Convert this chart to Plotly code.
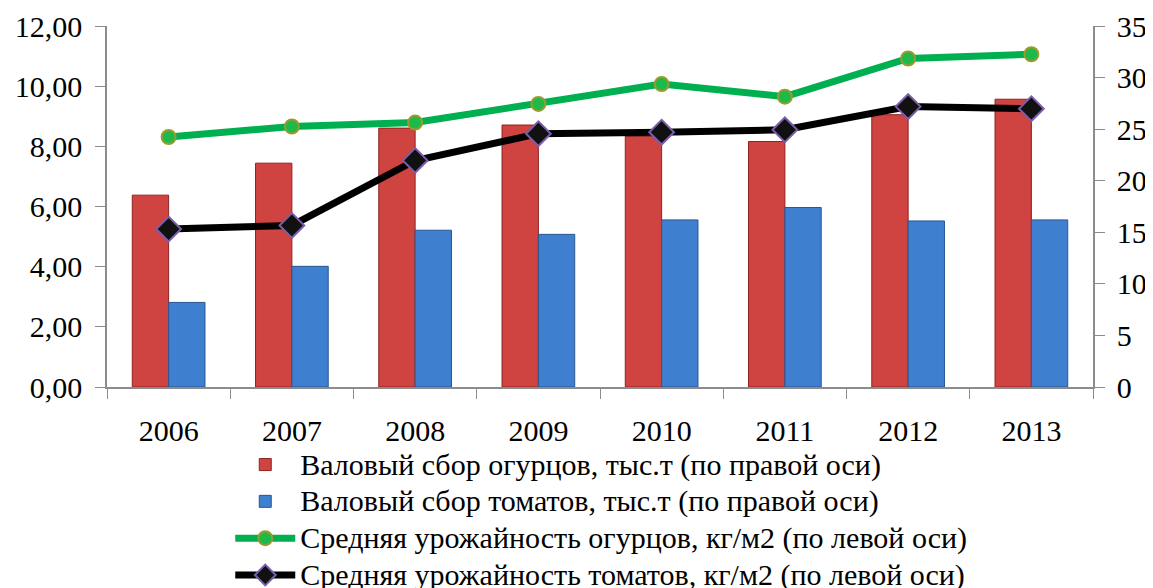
import plotly.graph_objects as go

years = ["2006", "2007", "2008", "2009", "2010", "2011", "2012", "2013"]
cucumber_gross = [18.6, 21.7, 25.1, 25.4, 24.3, 23.8, 26.4, 27.9]
tomato_gross = [8.2, 11.7, 15.2, 14.8, 16.2, 17.4, 16.1, 16.2]
cucumber_yield = [8.31, 8.66, 8.79, 9.41, 10.07, 9.65, 10.92, 11.06]
tomato_yield = [5.25, 5.37, 7.53, 8.42, 8.47, 8.55, 9.32, 9.25]

names = [
    "Валовый сбор огурцов, тыс.т (по правой оси)",
    "Валовый сбор томатов, тыс.т (по правой оси)",
    "Средняя урожайность огурцов, кг/м2 (по левой оси)",
    "Средняя урожайность томатов, кг/м2 (по левой оси)",
]

def big(s):
    return '<span style="font-size:30px">' + s + '</span>'

font_family = "Liberation Serif, Times New Roman, serif"

fig = go.Figure()
fig.add_trace(go.Bar(
    x=years, y=cucumber_gross, name=big(names[0]), yaxis="y",
    marker=dict(color="#CF4340", line=dict(color="#8E2420", width=1)),
))
fig.add_trace(go.Bar(
    x=years, y=tomato_gross, name=big(names[1]), yaxis="y",
    marker=dict(color="#3F7FCF", line=dict(color="#2A5690", width=1)),
))
fig.add_trace(go.Scatter(
    x=years, y=cucumber_yield, name=big(names[2]), yaxis="y2", mode="lines+markers",
    line=dict(color="#00B050", width=7),
    marker=dict(symbol="circle", size=14, color="#1DBA4A", line=dict(color="#9A9A30", width=2)),
))
fig.add_trace(go.Scatter(
    x=years, y=tomato_yield, name=big(names[3]), yaxis="y2", mode="lines+markers",
    line=dict(color="#000000", width=7),
    marker=dict(symbol="diamond", size=19, color="#111111", line=dict(color="#7A5EA8", width=2)),
))

axis_line = "#8C8C8C"
fig.update_layout(
    width=1145, height=580,
    paper_bgcolor="white", plot_bgcolor="white",
    separators=", ",
    font=dict(family=font_family, size=30, color="#000000"),
    margin=dict(l=99, r=60, t=18, b=201, autoexpand=False),
    barmode="group", bargap=0.41, bargroupgap=0,
    xaxis=dict(
        showline=True, linecolor=axis_line, linewidth=1.5,
        ticks="outside", tickson="boundaries", ticklen=10, tickcolor=axis_line,
        showgrid=False, tickfont=dict(size=30), ticklabelstandoff=16,
    ),
    yaxis=dict(
        side="right", range=[0, 35], dtick=5, tickformat="d",
        showline=True, linecolor=axis_line, linewidth=1.5,
        ticks="outside", ticklen=10, tickcolor=axis_line,
        showgrid=False, zeroline=False, tickfont=dict(size=30), ticklabelstandoff=6,
    ),
    yaxis2=dict(
        side="left", overlaying="y", range=[0, 12], dtick=2, tickformat=".2f",
        showline=True, linecolor=axis_line, linewidth=1.5,
        ticks="outside", ticklen=10, tickcolor=axis_line,
        showgrid=False, zeroline=False, tickfont=dict(size=30), ticklabelstandoff=7,
    ),
    legend=dict(
        orientation="v", x=0.125, xanchor="left", y=-0.15, yanchor="top",
        font=dict(size=26), tracegroupgap=0, itemwidth=60,
        bgcolor="rgba(0,0,0,0)",
    ),
    showlegend=True,
)

fig.write_html("out.html")
